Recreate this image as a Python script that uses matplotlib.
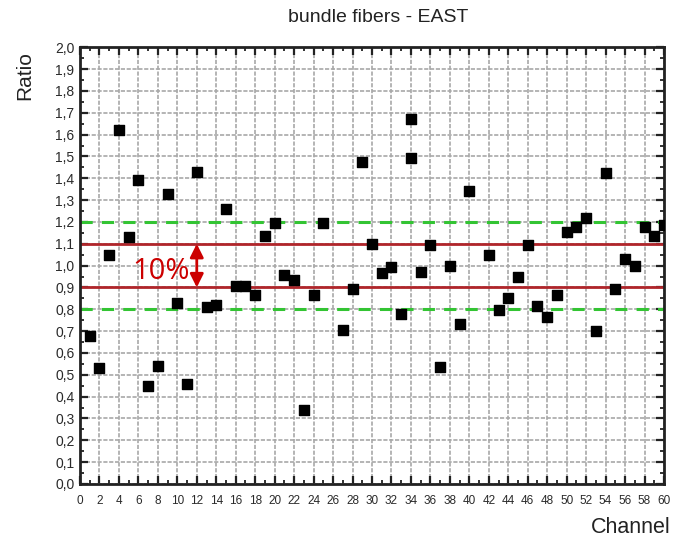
import matplotlib
matplotlib.use("Agg")
import matplotlib.pyplot as plt
from matplotlib.ticker import MultipleLocator, FuncFormatter

plt.rcParams["font.family"] = ["Liberation Sans", "DejaVu Sans"]

channels = [1, 2, 3, 4, 5, 6, 7, 8, 9, 10, 11, 12, 13, 14, 15, 16, 17, 18, 19, 20,
            21, 22, 23, 24, 25, 27, 28, 29, 30, 31, 32, 33, 34, 34, 35, 36, 37, 38, 39, 40,
            42, 43, 44, 45, 46, 47, 48, 49, 50, 51, 52, 53, 54, 55, 56, 57, 58, 59, 60]
ratios = [0.68, 0.53, 1.05, 1.62, 1.13, 1.39, 0.45, 0.54, 1.33, 0.83, 0.46, 1.43, 0.81, 0.82, 1.26, 0.905, 0.905, 0.865, 1.135, 1.195,
          0.958, 0.932, 0.34, 0.866, 1.197, 0.706, 0.894, 1.475, 1.10, 0.966, 0.996, 0.779, 1.67, 1.495, 0.973, 1.095, 0.534, 1.0, 0.732, 1.342,
          1.049, 0.797, 0.851, 0.95, 1.095, 0.817, 0.764, 0.866, 1.153, 1.176, 1.22, 0.702, 1.426, 0.894, 1.031, 1.0, 1.176, 1.137, 1.185]

red_limits = [0.9, 1.1]
green_limits = [0.8, 1.2]
title = "bundle fibers - EAST"

fig = plt.figure(figsize=(6.76, 5.43), dpi=100)
ax = fig.add_axes([0.1183, 0.1087, 0.8639, 0.8042])

ax.set_xlim(0, 60)
ax.set_ylim(0, 2.0)

ax.xaxis.set_major_locator(MultipleLocator(2))
ax.xaxis.set_minor_locator(MultipleLocator(1))
ax.yaxis.set_major_locator(MultipleLocator(0.1))
ax.yaxis.set_minor_locator(MultipleLocator(0.05))
ax.yaxis.set_major_formatter(FuncFormatter(lambda v, p: f"{v:.1f}".replace(".", ",")))
ax.xaxis.set_major_formatter(FuncFormatter(lambda v, p: f"{int(round(v))}"))

ax.grid(which="major", color="#a8a8a8", linewidth=1.2, linestyle=(0, (2.5, 1)))
ax.set_axisbelow(True)

ax.tick_params(which="both", direction="in", top=True, right=True, colors="#222222")
ax.tick_params(which="major", length=6, width=1.6)
ax.tick_params(which="minor", length=3, width=1.3)
ax.tick_params(axis="x", labelsize=8.5, pad=8)
ax.tick_params(axis="y", labelsize=10, pad=4)
for lbl in ax.get_xticklabels() + ax.get_yticklabels():
    lbl.set_color("#2a2a2a")
for s in ax.spines.values():
    s.set_linewidth(2.0)
    s.set_color("#222222")

for g in green_limits:
    ax.axhline(g, color="#33c433", linewidth=2.2, linestyle=(0, (4, 3)), zorder=2)
for r in red_limits:
    ax.axhline(r, color="#b0252a", linewidth=2.0, zorder=2)

ax.scatter(channels, ratios, marker="s", s=52, color="black", zorder=4)

ax.annotate("", xy=(12, red_limits[0]), xytext=(12, red_limits[1]),
            arrowprops=dict(arrowstyle="<|-|>", color="#cc0000", lw=2.0,
                            mutation_scale=20, shrinkA=0, shrinkB=0), zorder=5)
ax.text(11.3, 0.972, "10%", color="#cc0000", fontsize=21, ha="right", va="center",
        family=["Open Sans", "DejaVu Sans"], zorder=5)

fig.text(0.559, 0.967, title, fontsize=14, ha="center", va="center", color="#222222")
fig.text(0.037, 0.86, "Ratio", fontsize=15, rotation=90, ha="center", va="center", color="#222222")
fig.text(0.933, 0.028, "Channel", fontsize=15.5, ha="center", va="center", color="#222222")

fig.savefig("out.png", dpi=100, facecolor="white")
